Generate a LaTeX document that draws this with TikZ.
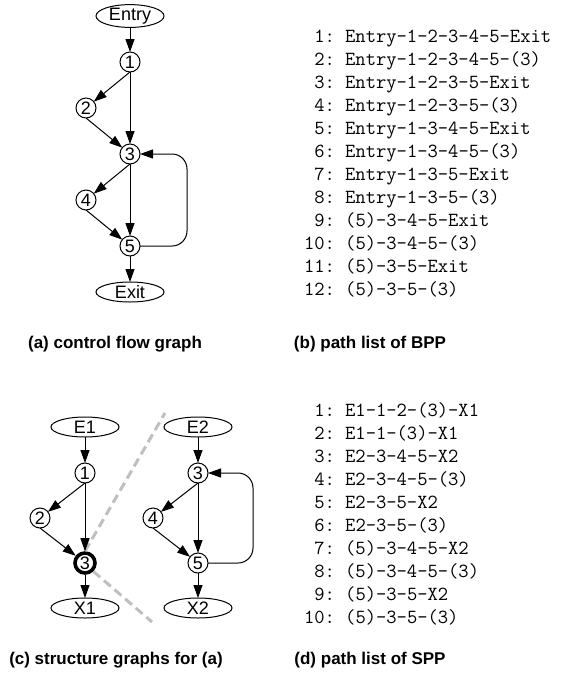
\documentclass[tikz,border=0pt]{standalone}
\usepackage{fontspec}
\setmainfont{Liberation Sans}
\usetikzlibrary{arrows.meta,shapes.geometric}

\begin{document}
\begin{tikzpicture}[x=1pt,y=-1pt,
  every node/.style={inner sep=0pt, outer sep=0pt},
  vtx/.style={circle, draw, fill=white, line width=1pt, minimum size=20pt,
    font=\fontsize{18}{18}\selectfont},
  term/.style={ellipse, draw, fill=white, line width=1pt, minimum width=68pt,
    minimum height=20pt, font=\fontsize{18}{18}\selectfont},
  hot/.style={vtx, line width=3.6pt, outer sep=1.8pt},
  edge/.style={draw, line width=1pt, -{Triangle[length=13pt,width=9pt]}},
  zoomline/.style={draw=black!25, line width=3pt, dash pattern=on 9pt off 5pt},
  caption/.style={anchor=base, font=\fontsize{17}{17}\selectfont\bfseries},
  pathlist/.style={anchor=north west, align=left,
    font=\fontsize{20}{23}\selectfont\ttfamily}
]
\useasboundingbox (0,0) rectangle (581,673);

% ---------- (a) control flow graph ----------
\node[term] (entry) at (130,16) {Entry};
\node[vtx] (a1) at (130,62) {1};
\node[vtx] (a2) at (86,108) {2};
\node[vtx] (a3) at (130,154) {3};
\node[vtx] (a4) at (86,200) {4};
\node[vtx] (a5) at (130,246) {5};
\node[term] (exit) at (130,292) {Exit};

\draw[edge] (entry) -- (a1);
\draw[edge] (a1.south) -- (a2);
\draw[edge] (a1) -- (a3);
\draw[edge] (a2.south) -- (a3);
\draw[edge] (a3.south) -- (a4);
\draw[edge] (a3) -- (a5);
\draw[edge] (a4.south) -- (a5);
\draw[edge] (a5) -- (exit);
\draw[edge, rounded corners=15pt] (a5.east) -- (187,246) -- (187,154) -- (a3.east);

% ---------- (c) structure graphs ----------
% zoom lines from the collapsed node to the expanded graph
\coordinate (ztop) at (165,413);
\coordinate (zbot) at (152,622);

\node[term] (e1) at (85,427) {E1};
\node[vtx] (c1) at (85,473) {1};
\node[vtx] (c2) at (40,518) {2};
\node[hot] (c3) at (85,563) {3};
\node[term] (x1) at (85,608) {X1};

\draw[zoomline] (c3.north) -- (ztop);
\draw[zoomline] (c3.south east) -- (zbot);

\draw[edge] (e1) -- (c1);
\draw[edge] (c1.south) -- (c2);
\draw[edge] (c1) -- (c3);
\draw[edge] (c2.south) -- (c3);
\draw[edge] (c3) -- (x1);

\node[term] (e2) at (198,427) {E2};
\node[vtx] (d3) at (198,473) {3};
\node[vtx] (d4) at (153,518) {4};
\node[vtx] (d5) at (198,563) {5};
\node[term] (x2) at (198,608) {X2};

\draw[edge] (e2) -- (d3);
\draw[edge] (d3.south) -- (d4);
\draw[edge] (d3) -- (d5);
\draw[edge] (d4.south) -- (d5);
\draw[edge] (d5) -- (x2);
\draw[edge, rounded corners=15pt] (d5.east) -- (253,563) -- (253,473) -- (d3.east);

% ---------- path lists ----------
\node[pathlist] (listb) at (304,26) {%
\begin{tabular}{@{}r@{\ }l@{}}
1:&Entry-1-2-3-4-5-Exit\\
2:&Entry-1-2-3-4-5-(3)\\
3:&Entry-1-2-3-5-Exit\\
4:&Entry-1-2-3-5-(3)\\
5:&Entry-1-3-4-5-Exit\\
6:&Entry-1-3-4-5-(3)\\
7:&Entry-1-3-5-Exit\\
8:&Entry-1-3-5-(3)\\
9:&(5)-3-4-5-Exit\\
10:&(5)-3-4-5-(3)\\
11:&(5)-3-5-Exit\\
12:&(5)-3-5-(3)
\end{tabular}};

\node[pathlist] (listd) at (304,400) {%
\begin{tabular}{@{}r@{\ }l@{}}
1:&E1-1-2-(3)-X1\\
2:&E1-1-(3)-X1\\
3:&E2-3-4-5-X2\\
4:&E2-3-4-5-(3)\\
5:&E2-3-5-X2\\
6:&E2-3-5-(3)\\
7:&(5)-3-4-5-X2\\
8:&(5)-3-4-5-(3)\\
9:&(5)-3-5-X2\\
10:&(5)-3-5-(3)
\end{tabular}};

% ---------- captions ----------
\node[caption] (capa) at (115,348) {(a) control flow graph};
\node[caption] (capb) at (370,348) {(b) path list of BPP};
\node[caption] (capc) at (116,664) {(c) structure graphs for (a)};
\node[caption] (capd) at (370,664) {(d) path list of SPP};
\end{tikzpicture}
\end{document}
